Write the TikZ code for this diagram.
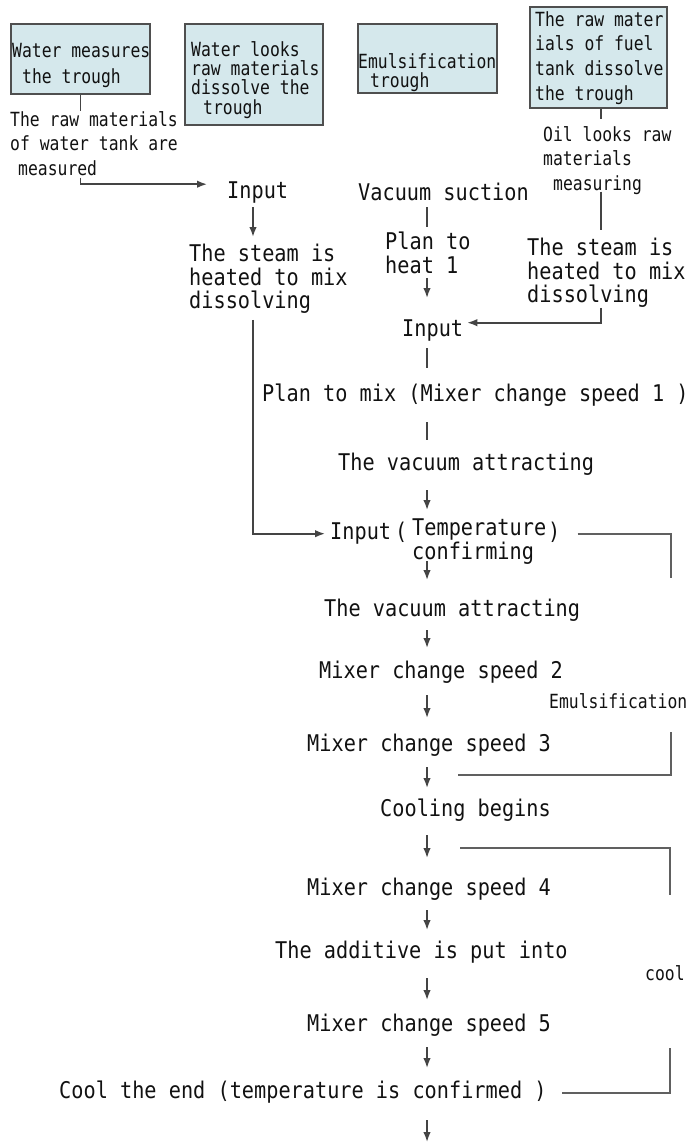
\documentclass[tikz,border=0pt]{standalone}
\usepackage{fontspec}
\usetikzlibrary{arrows.meta}
\newfontfamily\mainf[FakeStretch=0.88]{DejaVu Sans Mono}
\newfontfamily\smallf[FakeStretch=0.84]{DejaVu Sans Mono}
\definecolor{boxfill}{HTML}{D5E8EC}
\definecolor{boxline}{HTML}{4F4F4F}
\definecolor{txt}{HTML}{111111}
\definecolor{ln}{HTML}{444444}
\begin{document}
\begin{tikzpicture}[x=1pt,y=-1pt,
 tbox/.style={draw=boxline,fill=boxfill,line width=1.8pt,anchor=north west,inner sep=0pt},
 mt/.style={font=\mainf\fontsize{23}{23.5}\selectfont,inner sep=0pt,anchor=north west,text=txt,text height=17.5pt,text depth=5.5pt},
 mb/.style={font=\mainf\fontsize{23}{#1}\selectfont,inner sep=0pt,anchor=north west,text=txt,align=left},
 mb/.default=23.5,
 sb/.style={font=\smallf\fontsize{19.5}{#1}\selectfont,inner sep=0pt,anchor=north west,text=txt,align=left},
 sb/.default=24.5,
 conn/.style={draw=ln,line width=1.6pt},
 arr/.style={conn,-{Latex[length=10pt,width=7.5pt]}},
 brk/.style={draw=ln!85,line width=2pt}
]
\useasboundingbox (0,0) rectangle (691,1142);

% top boxes
\node[tbox,minimum width=139pt,minimum height=70pt] (b1) at (10,23) {};
\node[tbox,minimum width=138pt,minimum height=101pt] (b2) at (184,23) {};
\node[tbox,minimum width=139pt,minimum height=69pt] (b3) at (357,23) {};
\node[tbox,minimum width=137pt,minimum height=101pt] (b4) at (529,6) {};
\node[sb=26] (b1t) at (12,43) {Water measures\\\hspace*{10pt}the trough};
\node[sb=19.3] (b2t) at (191,41) {Water looks\\raw materials\\dissolve the\\\hspace*{12pt}trough};
\node[sb=19.5] (b3t) at (358,53) {Emulsification\\\hspace*{12pt}trough};
\node[sb=24.7] (b4t) at (535,11) {The raw mater\\ials of fuel\\tank dissolve\\the trough};

% notes
\node[sb] (note1) at (10,111) {The raw materials\\of water tank are\\\hspace*{8pt}measured};
\node[sb] (note2) at (543,126) {Oil looks raw\\materials\\\hspace*{10pt}measuring};

% left / middle / right upper texts
\node[mt] (in1) at (227,181) {Input};
\node[mb] (st1) at (189,244) {The steam is\\heated to mix\\dissolving};
\node[mt] (vs) at (358,183) {Vacuum suction};
\node[mb=24] (ph) at (385,232) {Plan to\\heat 1};
\node[mb] (st2) at (527,238) {The steam is\\heated to mix\\dissolving};
\node[mt] (in2) at (402,319) {Input};
\node[mt] (pm) at (262,384) {Plan to mix (Mixer change speed 1 )};
\node[mt] (va1) at (338,453) {The vacuum attracting};
\node[mt] (in3) at (330,522) {Input};
\node[mt] (lp) at (395,522) {(};
\node[mb=24] (tc) at (412,519) {Temperature\\confirming};
\node[mt] (rp) at (548,522) {)};
\node[mt] (va2) at (324,599) {The vacuum attracting};
\node[mt] (m2) at (319,661) {Mixer change speed 2};
\node[sb] (em) at (549,693) {Emulsification};
\node[mt] (m3) at (307,734) {Mixer change speed 3};
\node[mt] (cb) at (380,799) {Cooling begins};
\node[mt] (m4) at (307,878) {Mixer change speed 4};
\node[mt] (ad) at (275,941) {The additive is put into};
\node[sb] (cl) at (645,965) {cool};
\node[mt] (m5) at (307,1014) {Mixer change speed 5};
\node[mt] (ce) at (59,1081) {Cool the end (temperature is confirmed )};

% helper coordinates
\coordinate (colL) at (253,0);
\coordinate (col) at (427,0);
\coordinate (colR) at (601,0);
\coordinate (eA) at (671,578);
\coordinate (eB) at (671,732);
\coordinate (eC) at (458,775);
\coordinate (cA) at (460,848);
\coordinate (cB) at (670,895);
\coordinate (cC) at (670,1048);
\coordinate (endc) at (427,1142);

% left branch
\draw[conn] (b1.south) -- (b1.south |- note1.north);
\draw[arr,shorten <=2pt] (note1.south -| b1.south) |- ([xshift=-20pt,yshift=8.5pt]in1.west);
\draw[arr,shorten <=3pt,shorten >=7pt] (in1.south -| colL) -- (st1.north -| colL);
\draw[arr,shorten <=6pt,shorten >=5pt] (st1.south -| colL) |- (in3.west);

% right branch
\draw[conn,shorten >=7pt] (b4.south -| colR) -- (note2.north -| colR);
\draw[conn,shorten <=-3pt,shorten >=8pt] (note2.south -| colR) -- (st2.north -| colR);
\draw[arr,shorten >=4pt] (st2.south -| colR) |- ([yshift=8pt]in2.east);

% main column
\draw[conn,shorten <=1pt,shorten >=5pt] (vs.south -| col) -- (ph.north -| col);
\draw[arr,shorten <=3.5pt,shorten >=21pt] (ph.south -| col) -- (in2.north -| col);
\draw[conn,shorten <=6pt,shorten >=16pt] (in2.south -| col) -- (pm.north -| col);
\draw[conn,shorten <=15pt,shorten >=13pt] (pm.south -| col) -- (va1.north -| col);
\draw[arr,shorten <=14pt,shorten >=9pt] (va1.south -| col) -- (tc.north -| col);
\draw[arr,shorten <=-4pt,shorten >=19pt] (tc.south -| col) -- (va2.north -| col);
\draw[arr,shorten <=8pt,shorten >=13pt] (va2.south -| col) -- (m2.north -| col);
\draw[arr,shorten <=11pt,shorten >=16pt] (m2.south -| col) -- (m3.north -| col);
\draw[arr,shorten <=10pt,shorten >=11pt] (m3.south -| col) -- (cb.north -| col);
\draw[arr,shorten <=13pt,shorten >=20pt] (cb.south -| col) -- (m4.north -| col);
\draw[arr,shorten <=9pt,shorten >=11pt] (m4.south -| col) -- (ad.north -| col);
\draw[arr,shorten <=14pt,shorten >=14pt] (ad.south -| col) -- (m5.north -| col);
\draw[arr,shorten <=10pt,shorten >=13pt] (m5.south -| col) -- (ce.north -| col);
\draw[arr,shorten <=16pt] (ce.south -| col) -- (endc);

% brackets
\draw[brk] ([xshift=17pt]rp.east) -| (eA);
\draw[brk] (eB) |- (eC);
\draw[brk] (cA) -| (cB);
\draw[brk] (cC) |- ([xshift=15pt]ce.east);
\end{tikzpicture}
\end{document}
